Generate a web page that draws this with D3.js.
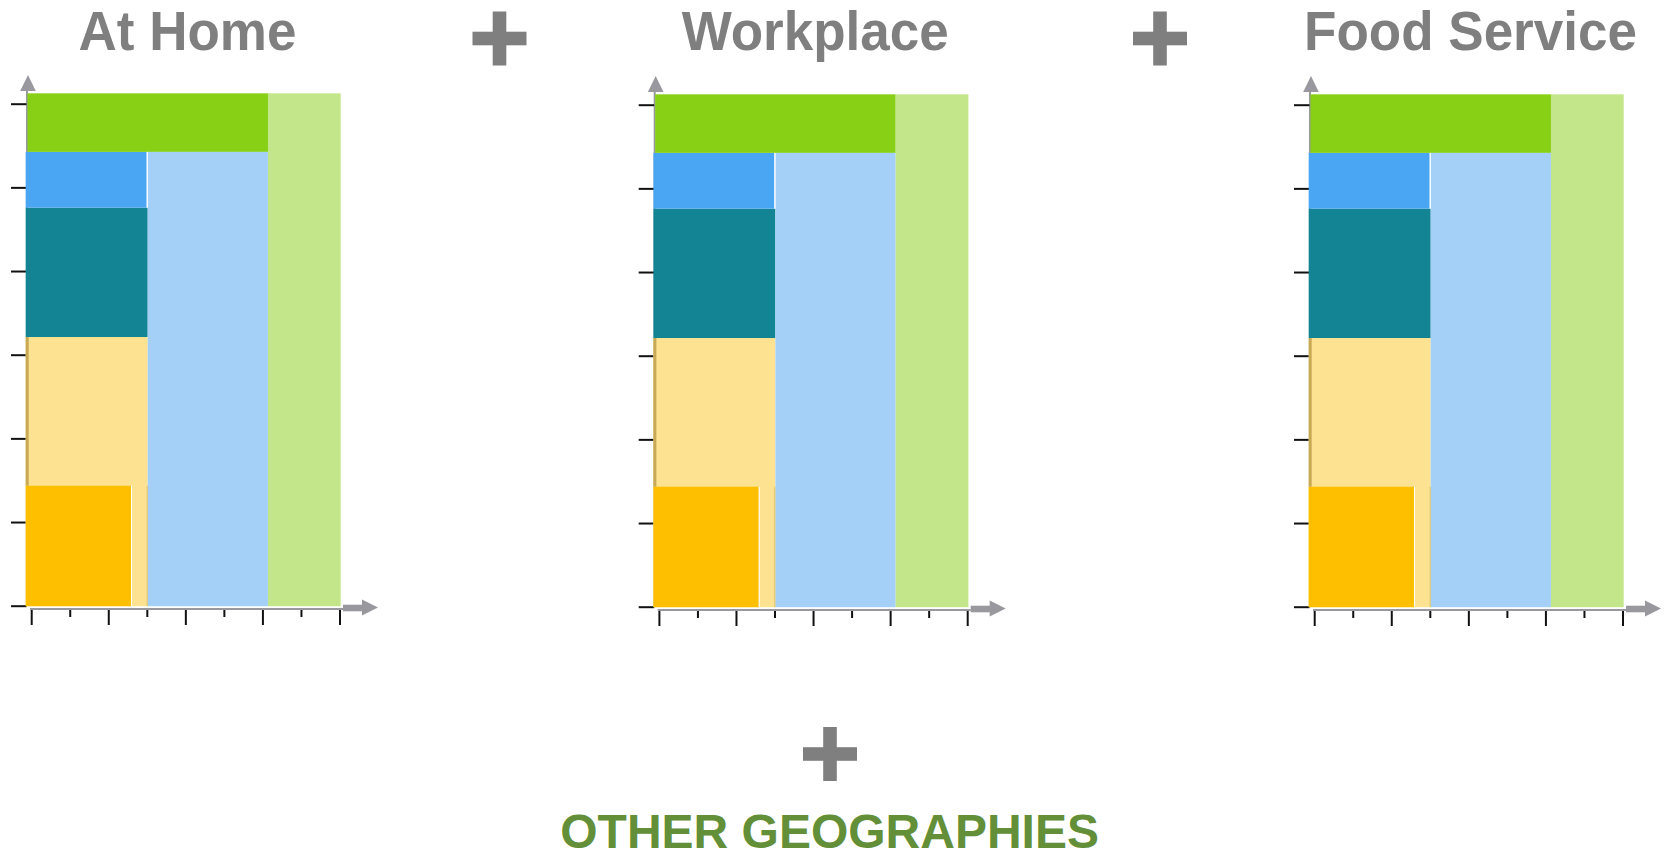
<!DOCTYPE html>
<html>
<head>
<meta charset="utf-8">
<script src="https://cdn.jsdelivr.net/npm/d3@7"></script>
<style>
html,body{margin:0;padding:0;background:#fff;}
svg{display:block;}
</style>
</head>
<body>
<svg id="chart" width="1667" height="854"></svg>
<script>
// ---------- data ----------
const panelTitles = ["At Home", "Workplace", "Food Service"];
const bottomLabel = "OTHER GEOGRAPHIES";

// segment blocks (same structure in every panel), in data units
const segNames = ["lightYellow", "gold", "teal", "blue", "green", "lightBlue", "lightGreen"];
const segX0 = [-0.156, -0.156, -0.156, -0.156, -0.11, 3.01, 6.131];
const segX1 = [3.01, 2.577, 3.01, 2.984, 6.131, 6.131, 8.018];
const segY0 = [0, 0, 3.217, 4.763, 5.43, 0, 0];
const segY1 = [3.217, 1.44, 4.763, 5.43, 6.13, 5.43, 6.13];

const yTickValues = [0, 1, 2, 3, 4, 5, 6];
const xTickValues = [0, 1, 2, 3, 4, 5, 6, 7, 8];

// ---------- styles ----------
const segColors = {
  lightYellow: "#fde391",
  gold: "#fdbf00",
  teal: "#138493",
  blue: "#4aa5f2",
  green: "#88d015",
  lightBlue: "#a4d0f7",
  lightGreen: "#c3e68a"
};
const axisGray = "#98989e";
const titleGray = "#7f7f7f";

const svg = d3.select("#chart");

const x = d3.scaleLinear().domain([0, 8]).range([31.7, 340]);
const y = d3.scaleLinear().domain([0, 6]).range([606.2, 104.2]);

const panelDX = [0, 627.7, 1283];
const panelDY = [0, 1, 1];

panelTitles.forEach((title, p) => {
  const g = svg.append("g").attr("transform", `translate(${panelDX[p]},${panelDY[p]})`);
  const axisX = x(-0.156) + 1.3; // y-axis position (just at the left edge of the blocks)

  // y axis line + arrow
  g.append("line")
    .attr("x1", axisX).attr("x2", axisX)
    .attr("y1", y(0)).attr("y2", 90)
    .attr("stroke", axisGray).attr("stroke-width", 2);
  g.append("path")
    .attr("d", `M${axisX + 1 - 7.8},91 L${axisX + 1},75 L${axisX + 1 + 7.8},91 Z`)
    .attr("fill", axisGray);

  // x axis line + arrow
  const bY = y(0) + 2.8;
  g.append("line")
    .attr("x1", axisX + 3).attr("x2", x(8) + 3)
    .attr("y1", bY).attr("y2", bY)
    .attr("stroke", axisGray).attr("stroke-width", 2);
  g.append("rect")
    .attr("x", x(8) + 3).attr("y", bY - 4.3)
    .attr("width", 21).attr("height", 6.6)
    .attr("fill", axisGray);
  g.append("path")
    .attr("d", `M${x(8) + 22},${bY - 9.5} L${x(8) + 38},${bY - 1.5} L${x(8) + 22},${bY + 6.5} Z`)
    .attr("fill", axisGray);

  // y ticks
  g.selectAll(".yt").data(yTickValues).join("line")
    .attr("x1", 11).attr("x2", axisX - 0.5)
    .attr("y1", d => y(d)).attr("y2", d => y(d))
    .attr("stroke", "#111").attr("stroke-width", 2);

  // x ticks (long on even, short on odd)
  g.selectAll(".xt").data(xTickValues).join("line")
    .attr("x1", d => x(d)).attr("x2", d => x(d))
    .attr("y1", bY + 1).attr("y2", d => bY + (d % 2 === 0 ? 16 : 8))
    .attr("stroke", "#111").attr("stroke-width", 2);

  // blocks
  g.selectAll(".seg").data(segNames).join("rect")
    .attr("x", (d, i) => x(segX0[i]))
    .attr("y", (d, i) => y(segY1[i]))
    .attr("width", (d, i) => x(segX1[i]) - x(segX0[i]))
    .attr("height", (d, i) => y(segY0[i]) - y(segY1[i]))
    .attr("fill", d => segColors[d]);

  // fine edge details
  const iy = segNames.indexOf("lightYellow"), ig = segNames.indexOf("gold"), ib = segNames.indexOf("blue");
  g.append("line")
    .attr("x1", x(segX0[iy]) + 1.5).attr("x2", x(segX0[iy]) + 1.5)
    .attr("y1", y(segY1[iy])).attr("y2", y(segY1[ig]))
    .attr("stroke", "#c8a955").attr("stroke-width", 3);
  g.append("line")
    .attr("x1", x(segX1[iy]) - 0.5).attr("x2", x(segX1[iy]) - 0.5)
    .attr("y1", y(segY1[ig])).attr("y2", y(0))
    .attr("stroke", "#d9c071").attr("stroke-width", 1);
  g.append("line")
    .attr("x1", x(segX1[ig]) + 0.5).attr("x2", x(segX1[ig]) + 0.5)
    .attr("y1", y(segY1[ig])).attr("y2", y(0))
    .attr("stroke", "#fff").attr("stroke-width", 1);
  g.append("line")
    .attr("x1", x(segX1[ib]) + 0.5).attr("x2", x(segX1[ib]) + 0.5)
    .attr("y1", y(segY1[ib])).attr("y2", y(segY0[ib]))
    .attr("stroke", "#fff").attr("stroke-width", 1);

  // title (slightly tall glyphs, as in the reference)
  g.append("text")
    .attr("transform", `translate(${axisX + 160.5},${50 - panelDY[p]}) scale(1,1.04)`)
    .attr("text-anchor", "middle")
    .attr("font-family", "'Liberation Sans', Arial, sans-serif")
    .attr("font-weight", "bold").attr("font-size", 53)
    .attr("fill", titleGray)
    .text(title);
});

// plus signs
const plusCenters = [[499.5, 38.5], [1160, 38.5], [830, 754]];
const plusSize = 54, plusThick = 13.6;
plusCenters.forEach(([cx, cy]) => {
  svg.append("rect").attr("x", cx - plusSize / 2).attr("y", cy - plusThick / 2)
    .attr("width", plusSize).attr("height", plusThick).attr("fill", titleGray);
  svg.append("rect").attr("x", cx - plusThick / 2).attr("y", cy - plusSize / 2)
    .attr("width", plusThick).attr("height", plusSize).attr("fill", titleGray);
});

// bottom label
svg.append("text")
  .attr("x", 829.6).attr("y", 848)
  .attr("text-anchor", "middle")
  .attr("font-family", "'Liberation Sans', Arial, sans-serif")
  .attr("font-weight", "bold").attr("font-size", 48)
  .attr("fill", "#628f38")
  .text(bottomLabel);
</script>
</body>
</html>
